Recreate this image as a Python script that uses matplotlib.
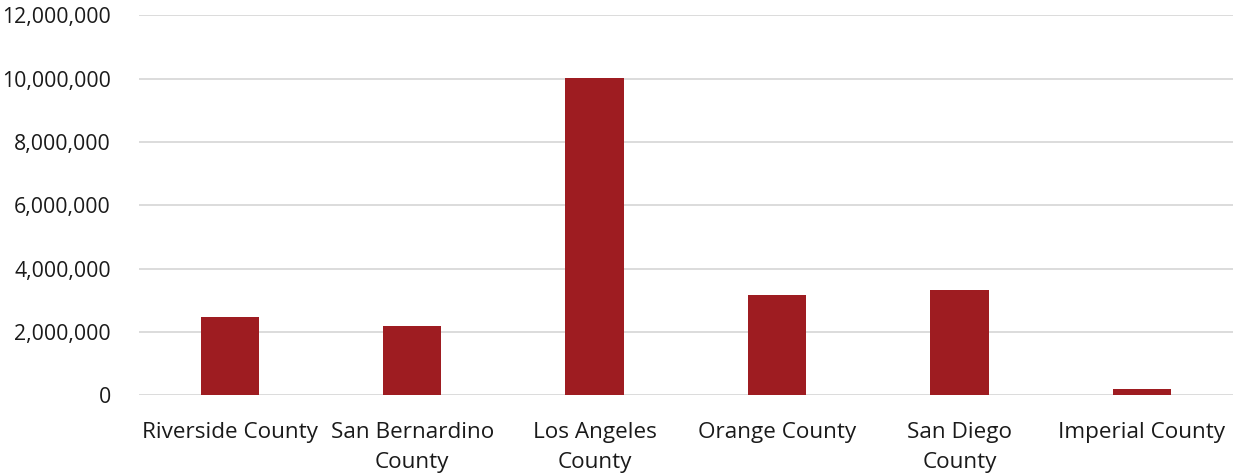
import matplotlib
matplotlib.use("Agg")
import matplotlib.pyplot as plt
from matplotlib.ticker import FuncFormatter

counties = ["Riverside County", "San Bernardino\nCounty", "Los Angeles\nCounty",
            "Orange County", "San Diego\nCounty", "Imperial County"]
population = [2480000, 2190000, 10030000, 3170000, 3330000, 190000]
y_ticks = [0, 2000000, 4000000, 6000000, 8000000, 10000000, 12000000]

plt.rcParams['font.family'] = ['Open Sans', 'DejaVu Sans']

fig = plt.figure(figsize=(12.33, 4.75), dpi=100)
ax = fig.add_axes([0.1125, 0.1674, 0.8875, 0.8])

x = range(len(counties))
ax.bar(x, population, width=0.32, color='#9E1C21', zorder=3)

ax.set_xlim(-0.5, len(counties) - 0.5)
ax.set_ylim(0, 12000000)
ax.set_yticks(y_ticks)
ax.yaxis.set_major_formatter(FuncFormatter(lambda v, p: f"{int(v):,}"))
ax.set_xticks(list(x))
ax.set_xticklabels(counties, linespacing=1.6, fontsize=16.2)

ax.grid(axis='y', color='#D9D9D9', linewidth=1.3, zorder=0)
for s in ax.spines.values():
    s.set_visible(False)
ax.tick_params(axis='both', length=0, colors='#1a1a1a')
ax.tick_params(axis='y', pad=20, labelsize=15.3)
ax.tick_params(axis='x', pad=19)

fig.savefig("out.png", dpi=100)
